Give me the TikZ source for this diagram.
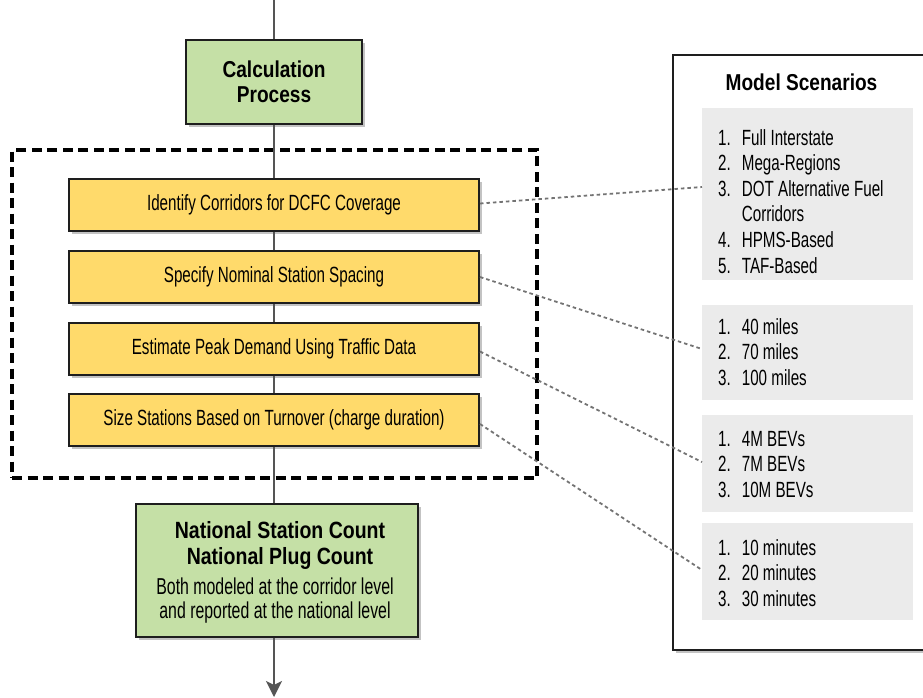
\documentclass[tikz,border=0pt]{standalone}
\usepackage{fontspec}
\setmainfont{Liberation Sans}
\newfontfamily\cnd[FakeStretch=0.69]{Liberation Sans}
\newfontfamily\cbdfam[FakeStretch=0.83]{Liberation Sans}
\usetikzlibrary{shadows,arrows.meta,calc}
\definecolor{ylw}{RGB}{255,218,107}
\definecolor{grn}{RGB}{197,224,166}
\definecolor{pnl}{RGB}{235,235,235}
\definecolor{shd}{RGB}{195,195,195}
\definecolor{edgec}{RGB}{30,30,30}
\definecolor{cline}{RGB}{85,85,85}
\definecolor{dotc}{RGB}{115,115,115}
\tikzset{
  boxbase/.style={draw=edgec, line width=2pt, inner sep=0pt,
    drop shadow={shadow xshift=3pt, shadow yshift=-3pt, fill=shd, opacity=1}},
  stepbox/.style={boxbase, fill=ylw, minimum width=410pt, minimum height=52pt,
    font=\cnd\fontsize{22}{25}\selectfont},
  greenbox/.style={boxbase, fill=grn},
  panel/.style={fill=pnl, draw=none, inner sep=0pt},
  listtxt/.style={inner sep=0pt, font=\cnd\fontsize{22}{25.6}\selectfont},
  flow/.style={draw=cline, line width=2pt},
  dotline/.style={draw=dotc, line width=1.8pt, dash pattern=on 3.5pt off 3pt},
}
\begin{document}
\begin{tikzpicture}[x=1pt,y=-1pt]
\useasboundingbox (0,0) rectangle (923,697);
\clip (0,0) rectangle (923,697);

% dashed group box
\node[draw=black, line width=4pt, dash pattern=on 10pt off 5.5pt, minimum width=525pt, minimum height=328pt, inner sep=0pt] (group) at (274.5,314) {};

% right scenarios box
\node[boxbase, fill=white, minimum width=280pt, minimum height=595pt] (scen) at (813,352.5) {};
\node[font=\cbdfam\bfseries\fontsize{23}{25}\selectfont, inner sep=0pt, anchor=base] (scentitle) at (801.5,90) {Model Scenarios};

\node[panel, minimum width=211pt, minimum height=172pt] (p1) at (807.5,194) {};
\node[panel, minimum width=211pt, minimum height=95pt] (p2) at (807.5,352.5) {};
\node[panel, minimum width=211pt, minimum height=97pt] (p3) at (807.5,463.5) {};
\node[panel, minimum width=211pt, minimum height=97pt] (p4) at (807.5,571.5) {};

\node[listtxt, anchor=base west] (l1) at (718,145) {\begin{tabular}[t]{@{}l@{\hspace{11pt}}l@{}}1. & Full Interstate\\2. & Mega-Regions\\3. & DOT Alternative Fuel\\ & Corridors\\4. & HPMS-Based\\5. & TAF-Based\end{tabular}};
\node[listtxt, anchor=base west] (l2) at (718,334) {\begin{tabular}[t]{@{}l@{\hspace{11pt}}l@{}}1. & 40 miles\\2. & 70 miles\\3. & 100 miles\end{tabular}};
\node[listtxt, anchor=base west] (l3) at (718,446) {\begin{tabular}[t]{@{}l@{\hspace{11pt}}l@{}}1. & 4M BEVs\\2. & 7M BEVs\\3. & 10M BEVs\end{tabular}};
\node[listtxt, anchor=base west] (l4) at (718,555) {\begin{tabular}[t]{@{}l@{\hspace{11pt}}l@{}}1. & 10 minutes\\2. & 20 minutes\\3. & 30 minutes\end{tabular}};

% flow boxes
\node[greenbox, minimum width=176pt, minimum height=84pt, align=center,
  font=\cbdfam\bfseries\fontsize{23}{25.5}\selectfont] (calc) at (274,82) {Calculation\\Process};
\node[stepbox] (s1) at (274,204.5) {Identify Corridors for DCFC Coverage};
\node[stepbox] (s2) at (274,277) {Specify Nominal Station Spacing};
\node[stepbox] (s3) at (274,348.5) {Estimate Peak Demand Using Traffic Data};
\node[stepbox] (s4) at (274,420) {Size Stations Based on Turnover (charge duration)};
\node[greenbox, minimum width=282pt, minimum height=133pt] (result) at (277,570.5) {};
\node[inner sep=0pt, anchor=base, font=\cbdfam\bfseries\fontsize{23.5}{25}\selectfont] (r1) at (280,538) {National Station Count};
\node[inner sep=0pt, anchor=base, font=\cbdfam\bfseries\fontsize{23.5}{25}\selectfont] (r2) at (280,564) {National Plug Count};
\node[inner sep=0pt, anchor=base, font=\cnd\fontsize{23}{25}\selectfont] (r3) at (275,594) {Both modeled at the corridor level};
\node[inner sep=0pt, anchor=base, font=\cnd\fontsize{23}{25}\selectfont] (r4) at (275,618) {and reported at the national level};

% flow line
\coordinate (top) at (274,0);
\coordinate (bot) at (274,697);
\draw[flow] (top) -- (calc.north);
\draw[flow] (calc.south) -- (s1.north);
\draw[flow] (s1.south) -- (s2.north);
\draw[flow] (s2.south) -- (s3.north);
\draw[flow] (s3.south) -- (s4.north);
\draw[flow] (s4.south) -- (s4.south |- result.north);
\draw[flow, -{Stealth[length=16pt,width=16pt,inset=4pt]}] (s4.south |- result.south) -- (bot);

% dotted connectors
\coordinate (c1) at (702,187);
\coordinate (c2) at (702,349);
\coordinate (c3) at (702,462);
\coordinate (c4) at (702,570);
\draw[dotline] ($(s1.east)+(0,-1)$) -- (c1);
\draw[dotline] (s2.east) -- (c2);
\draw[dotline] ($(s3.east)+(0,3)$) -- (c3);
\draw[dotline] ($(s4.east)+(0,4)$) -- (c4);
\end{tikzpicture}
\end{document}
